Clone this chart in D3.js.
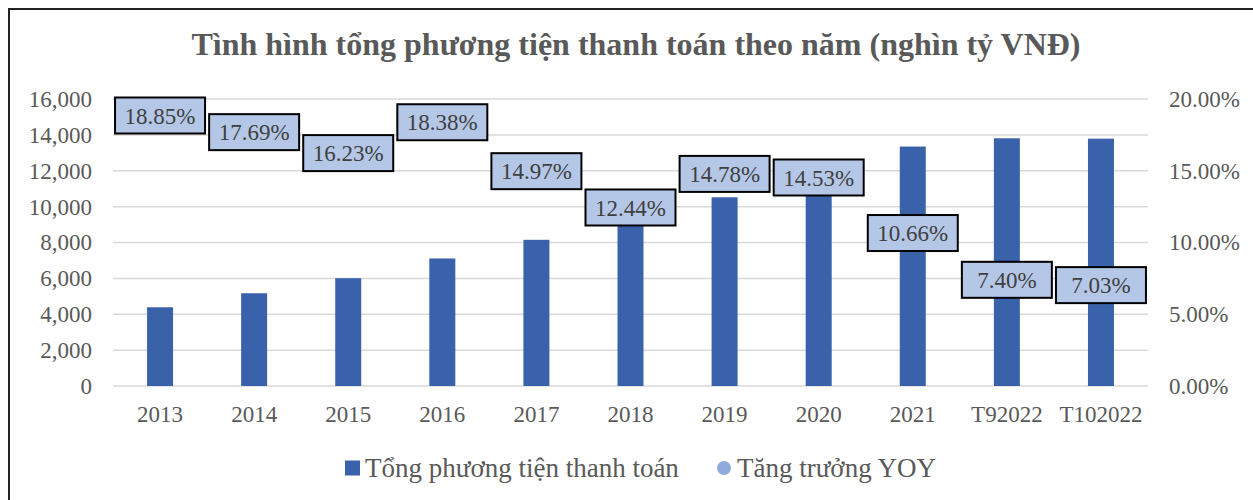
<!DOCTYPE html>
<html>
<head>
<meta charset="utf-8">
<script src="https://cdn.jsdelivr.net/npm/d3@7"></script>
<style>
  body { margin: 0; background: #fff; }
  svg { display: block; }
  text { font-family: "Liberation Serif", "Times New Roman", serif; }
</style>
</head>
<body>
<div id="chart"></div>
<script>
const BAR_BLUE = "#3a62ab"
const LABEL_FILL = "#b4c7e7"
const DOT_BLUE = "#8faadc"
const GRID = "#d9d9d9"
const TEXT_GREY = "#595959"
const SERIF = "'Liberation Serif', 'Times New Roman', serif"

// data
const categories = ["2013", "2014", "2015", "2016", "2017", "2018", "2019", "2020", "2021", "T92022", "T102022"];
const totalMeans = [4390, 5170, 6010, 7110, 8150, 9170, 10520, 12050, 13350, 13810, 13790];
const yoyGrowth = [18.85, 17.69, 16.23, 18.38, 14.97, 12.44, 14.78, 14.53, 10.66, 7.40, 7.03];
const leftTicks = [0, 2000, 4000, 6000, 8000, 10000, 12000, 14000, 16000];
const rightTicks = [0, 5, 10, 15, 20];

const W = 1253, H = 500;
const plot = {left: 113, right: 1148, top: 99, bottom: 386};

const svg = d3.select("#chart").append("svg")
  .attr("width", W)
  .attr("height", H);

// outer frame (only top and left edges show in the picture)
svg.append("path")
  .attr("d", "M9," + H + " V9 H" + W)
  .attr("fill", "none")
  .attr("stroke", "#222")
  .attr("stroke-width", 2);

svg.append("text")
  .attr("x", 636)
  .attr("y", 55)
  .attr("text-anchor", "middle")
  .style("font-family", SERIF)
  .style("font-size", "32px")
  .style("font-weight", "bold")
  .attr("fill", TEXT_GREY)
  .text("Tình hình tổng phương tiện thanh toán theo năm (nghìn tỷ VNĐ)");

const x = d3.scaleBand()
  .domain(categories)
  .range([plot.left, plot.right]);

const y = d3.scaleLinear()
  .domain([0, 16000])
  .range([plot.bottom, plot.top]);

const y2 = d3.scaleLinear()
  .domain([0, 20])
  .range([plot.bottom, plot.top]);

// gridlines
svg.append("g")
  .selectAll("line")
  .data(leftTicks)
  .enter().append("line")
  .attr("x1", plot.left)
  .attr("x2", plot.right)
  .attr("y1", d => y(d))
  .attr("y2", d => y(d))
  .attr("stroke", GRID)
  .attr("stroke-width", 1.5);

function styleTicks(g) {
  g.select(".domain").remove();
  g.selectAll("text")
    .style("font-family", SERIF)
    .style("font-size", "23px")
    .attr("fill", TEXT_GREY);
}

// left axis
const fmt = d3.format(",d");
svg.append("g")
  .attr("transform", "translate(" + (plot.left - 21) + ",0)")
  .call(d3.axisLeft(y).tickValues(leftTicks).tickFormat(fmt).tickSize(0).tickPadding(0))
  .call(styleTicks);

// right axis
svg.append("g")
  .attr("transform", "translate(" + (plot.right + 21) + ",0)")
  .call(d3.axisRight(y2).tickValues(rightTicks).tickFormat(d => d.toFixed(2) + "%").tickSize(0).tickPadding(0))
  .call(styleTicks);

// bars
const barW = 26;
svg.append("g")
  .selectAll("rect")
  .data(totalMeans)
  .enter().append("rect")
  .attr("x", (d, i) => x(categories[i]) + x.bandwidth() / 2 - barW / 2)
  .attr("y", d => y(d))
  .attr("width", barW)
  .attr("height", d => plot.bottom - y(d))
  .attr("fill", BAR_BLUE);

// x axis labels
svg.append("g")
  .attr("transform", "translate(0," + plot.bottom + ")")
  .call(d3.axisBottom(x).tickSize(0).tickPadding(20))
  .call(styleTicks);

// YOY labels, centred on the (hidden) line points
const boxW = 90, boxH = 36;
const lbl = svg.append("g")
  .selectAll("g")
  .data(yoyGrowth)
  .enter().append("g")
  .attr("transform", (d, i) => "translate(" + (x(categories[i]) + x.bandwidth() / 2) + "," + y2(d) + ")");
lbl.append("rect")
  .attr("x", -boxW / 2)
  .attr("y", -boxH / 2)
  .attr("width", boxW)
  .attr("height", boxH)
  .attr("fill", LABEL_FILL)
  .attr("stroke", "#000")
  .attr("stroke-width", 2);
lbl.append("text")
  .attr("text-anchor", "middle")
  .attr("dy", "0.35em")
  .style("font-family", SERIF)
  .style("font-size", "23px")
  .attr("fill", "#404040")
  .text(d => d.toFixed(2) + "%");

// legend
const legend = svg.append("g").attr("transform", "translate(0,468)");
legend.append("rect")
  .attr("x", 345).attr("y", -7.5)
  .attr("width", 15).attr("height", 15)
  .attr("fill", BAR_BLUE);
legend.append("text")
  .attr("x", 365).attr("dy", "0.33em")
  .style("font-family", SERIF)
  .style("font-size", "27px")
  .attr("fill", TEXT_GREY)
  .text("Tổng phương tiện thanh toán");
legend.append("circle")
  .attr("cx", 724).attr("cy", 0).attr("r", 7)
  .attr("fill", DOT_BLUE);
legend.append("text")
  .attr("x", 737).attr("dy", "0.33em")
  .style("font-family", SERIF)
  .style("font-size", "27px")
  .attr("fill", TEXT_GREY)
  .text("Tăng trưởng YOY");
</script>
</body>
</html>
